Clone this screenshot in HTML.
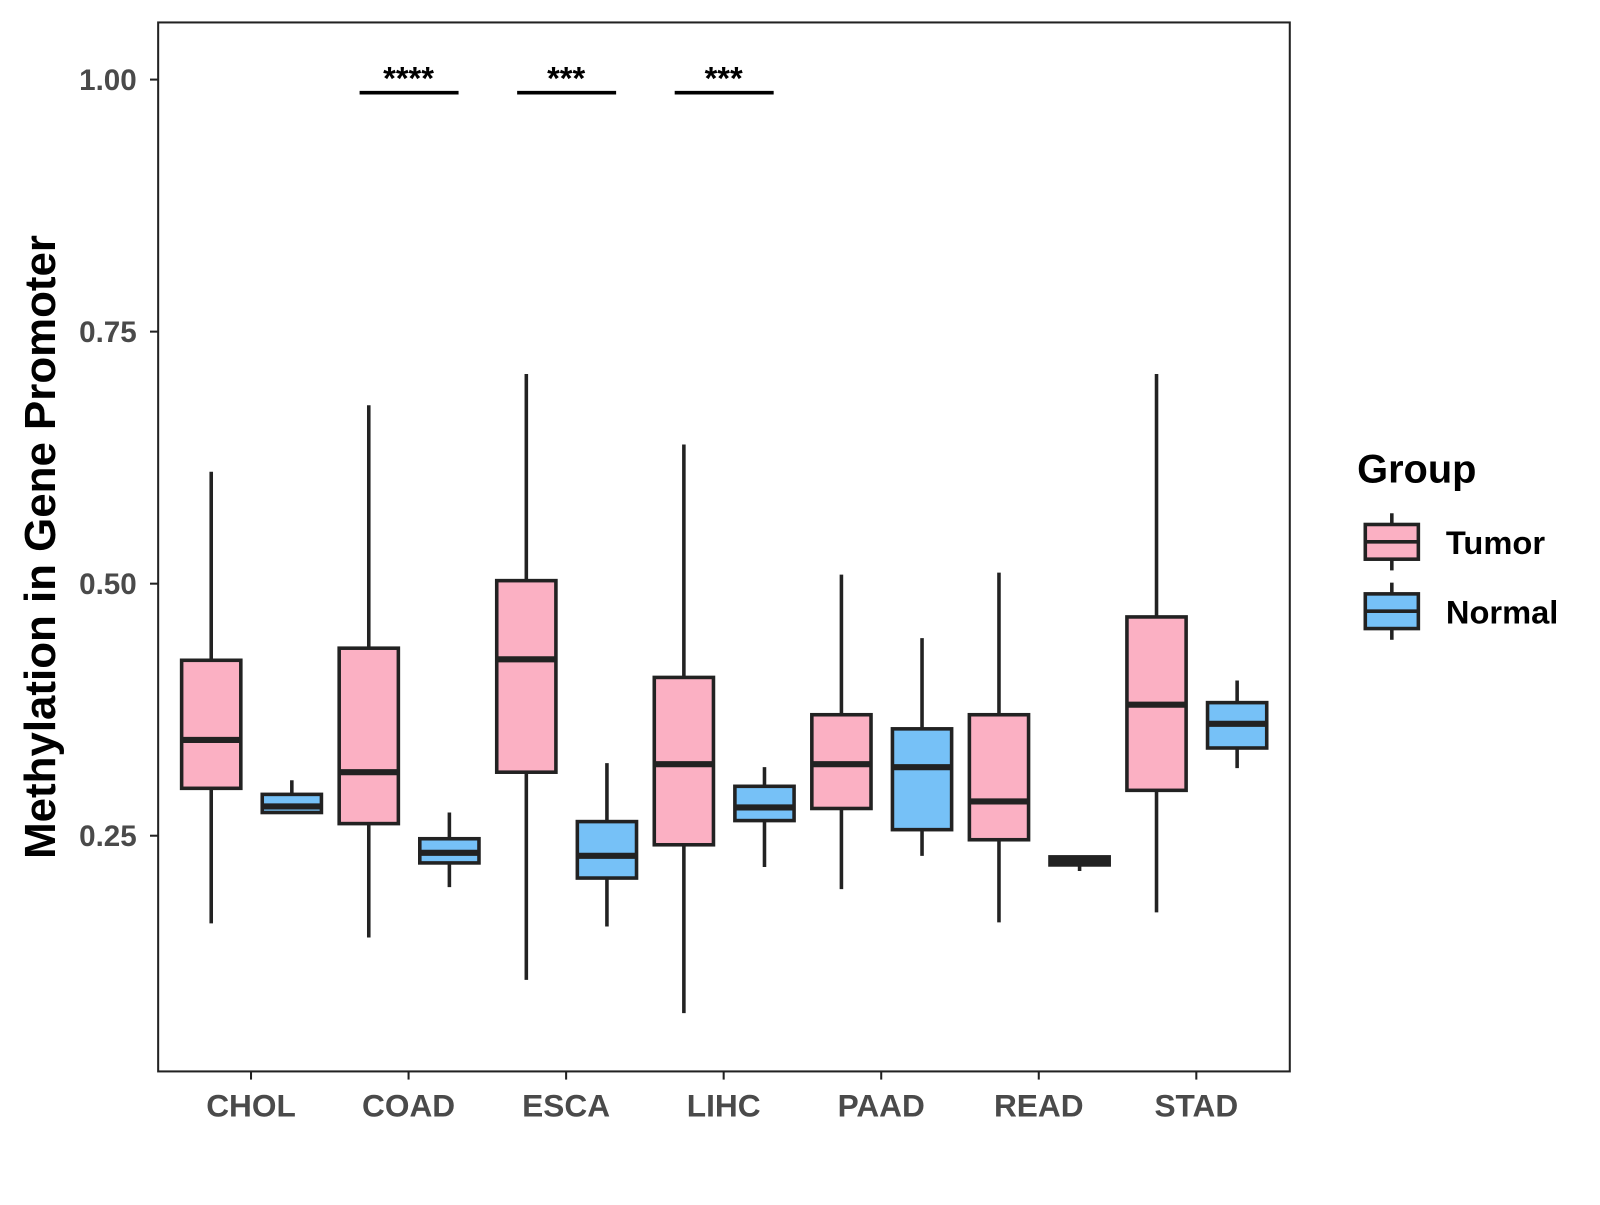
<!DOCTYPE html>
<html><head><meta charset="utf-8"><style>
body{margin:0;background:#fff;}
svg text{font-family:"Liberation Sans",Arial,sans-serif;}
</style></head><body>
<svg id="chart" width="1600" height="1200" viewBox="0 0 1600 1200">
<rect x="0" y="0" width="1600" height="1200" fill="#fff"/>
<g transform="scale(1.0204)">
<rect x="155" y="22" width="1109" height="1028" fill="none" stroke="#222" stroke-width="2"/>
<g id="marks"></g>
<text transform="translate(54,536) rotate(-90)" text-anchor="middle" font-size="43" font-weight="bold" fill="#000">Methylation in Gene Promoter</text>
<g>
<text x="1330" y="473" font-size="39" font-weight="bold" fill="#000">Group</text>
<g>
<line x1="1364" y1="503" x2="1364" y2="559" stroke="#222" stroke-width="3.5"/>
<rect x="1338" y="514" width="52" height="34" fill="#FBB0C3" stroke="#222" stroke-width="3.5"/>
<line x1="1338" y1="531" x2="1390" y2="531" stroke="#222" stroke-width="3.5"/>
<text x="1417" y="543" font-size="32" font-weight="bold" fill="#000">Tumor</text>
</g>
<g>
<line x1="1364" y1="571" x2="1364" y2="627" stroke="#222" stroke-width="3.5"/>
<rect x="1338" y="582" width="52" height="34" fill="#76C1F7" stroke="#222" stroke-width="3.5"/>
<line x1="1338" y1="599" x2="1390" y2="599" stroke="#222" stroke-width="3.5"/>
<text x="1417" y="611" font-size="32" font-weight="bold" fill="#000">Normal</text>
</g>
</g>
</g>
</svg>
<script>
const categories=["CHOL","COAD","ESCA","LIHC","PAAD","READ","STAD"];
const yTicks=[0.25,0.5,0.75,1.0];
const yTickLabels=["0.25","0.50","0.75","1.00"];
// [low whisker, q1, median, q3, high whisker]
const tumorStats=[[0.163,0.297,0.345,0.424,0.611],[0.149,0.262,0.313,0.436,0.677],[0.107,0.313,0.425,0.503,0.708],[0.074,0.241,0.321,0.407,0.638],[0.197,0.277,0.321,0.370,0.509],[0.164,0.246,0.284,0.370,0.511],[0.174,0.295,0.380,0.467,0.708]];
const normalStats=[[0.272,0.273,0.279,0.291,0.305],[0.199,0.223,0.233,0.247,0.273],[0.160,0.208,0.230,0.264,0.322],[0.219,0.265,0.278,0.299,0.318],[0.230,0.256,0.318,0.356,0.446],[0.215,0.221,0.225,0.229,0.229],[0.317,0.337,0.361,0.382,0.404]];
const sigCategories=["COAD","ESCA","LIHC"];
const sigLabels=["****","***","***"];
const sigValue=0.987;

const NS="http://www.w3.org/2000/svg";
const g=document.getElementById('marks');
const yScale=v=>819-(v-0.25)*988;
const xScale=i=>246+i*154.4;
function mk(tag,attrs){const e=document.createElementNS(NS,tag);for(const k in attrs)e.setAttribute(k,attrs[k]);g.appendChild(e);return e;}

yTicks.forEach((t,i)=>{
  const y=yScale(t);
  const tk=mk('line',{x1:147,x2:155,y1:y,y2:y,stroke:'#222','stroke-width':2});
  
  
  const tx=mk('text',{x:134,y:y+10,'text-anchor':'end','font-size':29,'font-weight':'bold',fill:'#4a4a4a'});
  tx.textContent=yTickLabels[i];
  
  
});
categories.forEach((c,i)=>{
  const x=xScale(i);
  const tk=mk('line',{x1:x,x2:x,y1:1050,y2:1058,stroke:'#222','stroke-width':2});
  
  
  const tx=mk('text',{x:x,y:1094,'text-anchor':'middle','font-size':31,'font-weight':'bold',fill:'#4a4a4a'});
  tx.textContent=c;
  
  
});
function drawBox(cx,s,fill,name){
  const hw=29;
  const w=mk('line',{x1:cx,x2:cx,y1:yScale(s[0]),y2:yScale(s[4]),stroke:'#222','stroke-width':3.5});
  
  
  const r=mk('rect',{x:cx-hw,y:yScale(s[3]),width:hw*2,height:Math.max(yScale(s[1])-yScale(s[3]),1),fill:fill,stroke:'#222','stroke-width':3.5});
  
  
  const m=mk('line',{x1:cx-hw,x2:cx+hw,y1:yScale(s[2]),y2:yScale(s[2]),stroke:'#222','stroke-width':6});
  
  
}
categories.forEach((c,i)=>{
  drawBox(xScale(i)-39,tumorStats[i],'#FBB0C3','tumor-'+c.toLowerCase());
  drawBox(xScale(i)+40,normalStats[i],'#76C1F7','normal-'+c.toLowerCase());
});
sigCategories.forEach((c,j)=>{
  const i=categories.indexOf(c);
  const y=yScale(sigValue);
  const l=mk('line',{x1:xScale(i)-48,x2:xScale(i)+49,y1:y,y2:y,stroke:'#000','stroke-width':3.5});
  
  
  const t=mk('text',{x:xScale(i),y:y-3,'text-anchor':'middle','font-size':32,'font-weight':'bold',fill:'#000'});
  t.textContent=sigLabels[j];
  
  
});
</script>
</body></html>
